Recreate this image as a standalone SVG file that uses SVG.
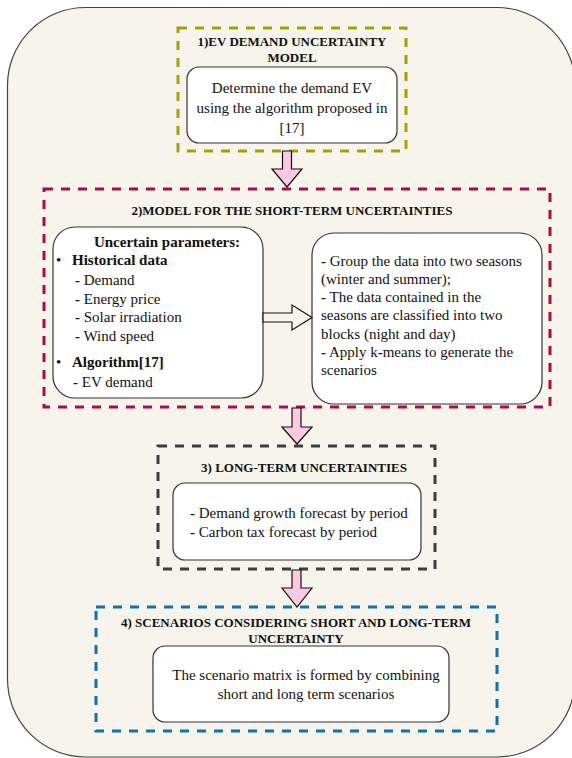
<svg xmlns="http://www.w3.org/2000/svg" width="572" height="758" viewBox="0 0 572 758">
<style>
text{font-family:'Liberation Serif',serif;fill:#111;}
.t{font-size:13px;font-weight:bold;text-anchor:middle;}
.b{font-size:15px;}
.c{text-anchor:middle;}
.bd{font-weight:bold;}
.wb{fill:#fff;stroke:#333;stroke-width:1.2;}
.dash{fill:none;stroke-width:3;stroke-dasharray:9 8;}
.pk{fill:#fcc8e2;stroke:#111;stroke-width:1.2;stroke-linejoin:miter;}
</style>
<rect width="572" height="758" fill="#fff"/>
<g id="frame">
<rect x="7.5" y="7.5" width="567.5" height="749.5" rx="78" ry="78" fill="#f7f4ec" stroke="#444" stroke-width="1.2"/>
</g>
<g id="node1" font-family="'Liberation Serif', serif">
<rect class="dash" x="178" y="28" width="228" height="123" stroke="#a8a000"/>
<text class="t" x="292" y="46">1)EV DEMAND UNCERTAINTY</text>
<text class="t" x="292" y="62">MODEL</text>
<rect class="wb" x="187" y="67" width="210" height="76" rx="12"/>
<text class="b c" x="292" y="93">Determine the demand EV</text>
<text class="b c" x="292" y="113">using the algorithm proposed in</text>
<text class="b c" x="292" y="133">[17]</text>
</g>
<g id="node2">
<rect class="dash" x="44" y="189" width="506" height="218" stroke="#b0084a"/>
<text class="t" x="292" y="215">2)MODEL FOR THE SHORT-TERM UNCERTAINTIES</text>
</g>
<g id="node2a">
<rect class="wb" x="53" y="227" width="210" height="171" rx="22"/>
<text class="b bd c" x="167" y="247">Uncertain parameters:</text>
<text class="b" x="56" y="265">•</text>
<text class="b bd" x="72" y="265">Historical data</text>
<text class="b" x="75" y="285"><tspan class="bd">-</tspan> Demand</text>
<text class="b" x="75" y="304"><tspan class="bd">-</tspan> Energy price</text>
<text class="b" x="75" y="322"><tspan class="bd">-</tspan> Solar irradiation</text>
<text class="b" x="75" y="341"><tspan class="bd">-</tspan> Wind speed</text>
<text class="b" x="56" y="367">•</text>
<text class="b bd" x="72" y="367">Algorithm[17]</text>
<text class="b" x="73" y="387"><tspan class="bd">-</tspan> EV demand</text>
</g>
<g id="node2b">
<rect class="wb" x="312" y="233" width="230" height="171" rx="22"/>
<text class="b" x="321" y="266"><tspan class="bd">-</tspan> Group the data into two seasons</text>
<text class="b" x="321" y="284">(winter and summer);</text>
<text class="b" x="321" y="302"><tspan class="bd">-</tspan> The data contained in the</text>
<text class="b" x="321" y="320">seasons are classified into two</text>
<text class="b" x="321" y="339">blocks (night and day)</text>
<text class="b" x="321" y="357"><tspan class="bd">-</tspan> Apply k<tspan class="bd">-</tspan>means to generate the</text>
<text class="b" x="321" y="375">scenarios</text>
</g>
<g id="node3">
<rect class="dash" x="158" y="446" width="277" height="123" stroke="#3a3d42"/>
<text class="t" x="304" y="472">3) LONG-TERM UNCERTAINTIES</text>
<rect class="wb" x="173" y="483" width="248" height="77" rx="12"/>
<text class="b" x="190" y="518"><tspan class="bd">-</tspan> Demand growth forecast by period</text>
<text class="b" x="190" y="537"><tspan class="bd">-</tspan> Carbon tax forecast by period</text>
</g>
<g id="node4">
<rect class="dash" x="96" y="607" width="401" height="124" stroke="#0a72b5"/>
<text class="t" x="296" y="627">4) SCENARIOS CONSIDERING SHORT AND LONG-TERM</text>
<text class="t" x="296" y="643">UNCERTAINTY</text>
<rect class="wb" x="153" y="646" width="296" height="76" rx="12"/>
<text class="b c" x="306" y="680">The scenario matrix is formed by combining</text>
<text class="b c" x="306" y="699">short and long term scenarios</text>
</g>
<g id="connectors">
<path class="pk" d="M282.5,151 L291.5,151 L291.5,169 L302,169 L287,187 L272,169 L282.5,169 Z"/>
<path d="M263,313 L292,313 L292,305 L312,317.5 L292,330 L292,322 L263,322 Z" fill="#f7f4ec" stroke="#111" stroke-width="1.2"/>
<path class="pk" d="M292,408 L301,408 L301,427 L312,427 L297,444 L282,427 L292,427 Z"/>
<path class="pk" d="M292,570 L301,570 L301,588 L312,588 L297,607 L282,588 L292,588 Z"/>
</g>
</svg>
